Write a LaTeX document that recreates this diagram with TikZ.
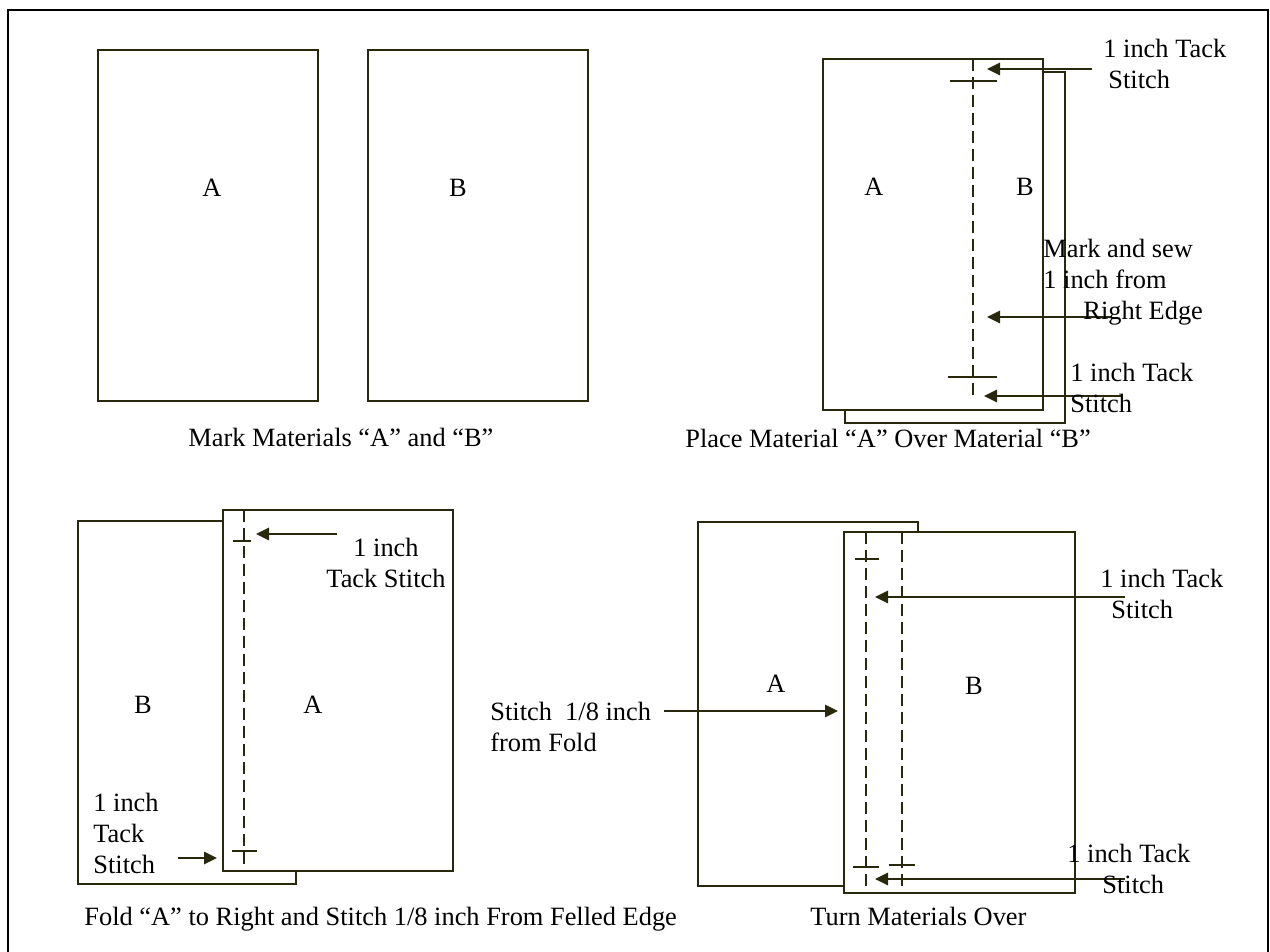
\documentclass[tikz,border=0pt]{standalone}
\usepackage{fontspec}
\setmainfont{Liberation Serif}
\usetikzlibrary{arrows.meta}
\definecolor{ink}{RGB}{40,40,12}
\begin{document}
\begin{tikzpicture}[x=0.5pt,y=-0.5pt,
  sheet/.style={draw=ink,line width=1.4pt,fill=white},
  seam/.style={draw=ink,line width=1.4pt,dash pattern=on 6pt off 3pt},
  tack/.style={draw=ink,line width=1.4pt},
  arr/.style={draw=ink,line width=1.4pt,-{Triangle[length=6.5pt,width=6pt]}},
  lbl/.style={inner sep=0pt,font=\fontsize{13.2}{15.5}\selectfont,text=black},
  ]
\useasboundingbox (0,0) rectangle (1270,952);
% outer frame
\draw[black,line width=0.9pt] (8,952) -- (8,10) -- (1268,10) -- (1268,952);

% ---------- Panel 1 ----------
\draw[sheet] (98,50) rectangle (318,401);
\draw[sheet] (368,50) rectangle (588,401);
\node[lbl,anchor=base] (p1a) at (212,197) {A};
\node[lbl,anchor=base] (p1b) at (458,197) {B};
\node[lbl,anchor=base west] (cap1) at (188,446) {Mark Materials “A” and “B”};

% ---------- Panel 2 ----------
\draw[sheet] (845,72) rectangle (1065,423);
\draw[sheet] (823,59) rectangle (1043,410);
\draw[seam] (973,59) -- (973,400);
\draw[tack] (950,81) -- (997,81);
\draw[tack] (948,377) -- (997,377);
\coordinate (t2a) at (1092,69);  \coordinate (h2a) at (987,69);
\coordinate (t2b) at (1110,317); \coordinate (h2b) at (987,317);
\coordinate (t2c) at (1121,396); \coordinate (h2c) at (984,396);
\draw[arr] (t2a) -- (h2a);
\draw[arr] (t2b) -- (h2b);
\draw[arr] (t2c) -- (h2c);
\node[lbl,anchor=base] (p2a) at (874,196) {A};
\node[lbl,anchor=base] (p2b) at (1025,196) {B};
\node[lbl,anchor=base west,align=left] (l2a) at (1103,89) {1 inch Tack\\\hspace*{2.5pt}Stitch};
\node[lbl,anchor=base west,align=left] (l2b) at (1043,320) {Mark and sew\\1 inch from\\\hspace*{20pt}Right Edge};
\node[lbl,anchor=base west,align=left] (l2c) at (1070,413) {1 inch Tack\\Stitch};
\node[lbl,anchor=base west] (cap2) at (685,447) {Place Material “A” Over Material “B”};

% ---------- Panel 3 ----------
\draw[sheet] (78,521) rectangle (296,884);
\draw[sheet] (223,510) rectangle (453,871);
\draw[seam] (244,510) -- (244,871);
\draw[tack] (233,541) -- (251,541);
\draw[tack] (232,851) -- (257,851);
\coordinate (t3a) at (337,534); \coordinate (h3a) at (256,534);
\coordinate (t3b) at (178,858); \coordinate (h3b) at (217,858);
\draw[arr] (t3a) -- (h3a);
\draw[arr] (t3b) -- (h3b);
\node[lbl,anchor=base] (p3b) at (143,713) {B};
\node[lbl,anchor=base] (p3a) at (313,713) {A};
\node[lbl,anchor=base,align=center] (l3a) at (386,587) {1 inch\\Tack Stitch};
\node[lbl,anchor=base west,align=left] (l3b) at (93,873) {1 inch\\Tack\\Stitch};
\node[lbl,anchor=base west] (cap3) at (84,925) {Fold “A” to Right and Stitch 1/8 inch From Felled Edge};

% ---------- Panel 4 ----------
\draw[sheet] (698,522) rectangle (918,886);
\draw[sheet] (844,532) rectangle (1075,893);
\draw[seam] (866,532) -- (866,893);
\draw[seam] (902,532) -- (902,893);
\draw[tack] (855,559) -- (879,559);
\draw[tack] (853,867) -- (879,867);
\draw[tack] (889,865) -- (915,865);
\coordinate (t4a) at (1125,597); \coordinate (h4a) at (875,597);
\coordinate (t4b) at (1125,879); \coordinate (h4b) at (875,879);
\coordinate (t4c) at (664,711);  \coordinate (h4c) at (838,711);
\draw[arr] (t4a) -- (h4a);
\draw[arr] (t4b) -- (h4b);
\draw[arr] (t4c) -- (h4c);
\node[lbl,anchor=base] (p4a) at (776,692) {A};
\node[lbl,anchor=base] (p4b) at (974,694) {B};
\node[lbl,anchor=base west,align=left] (l4c) at (490,751) {Stitch\ \ 1/8 inch\\from Fold};
\node[lbl,anchor=base west,align=left] (l4a) at (1100,618) {1 inch Tack\\\hspace*{5.5pt}Stitch};
\node[lbl,anchor=base west,align=left] (l4b) at (1067,893) {1 inch Tack\\\hspace*{17.5pt}Stitch};
\node[lbl,anchor=base west] (cap4) at (810,925) {Turn Materials Over};
\end{tikzpicture}
\end{document}
